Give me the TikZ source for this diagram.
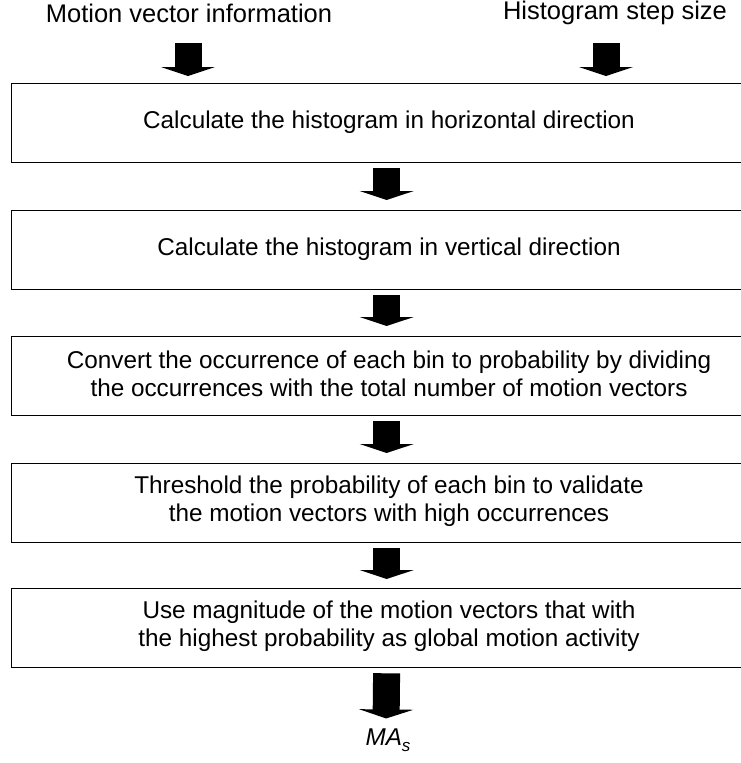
\documentclass[tikz,border=0pt]{standalone}
\usepackage{fontspec}
\setmainfont{Liberation Sans}
\usetikzlibrary{arrows.meta}
\tikzset{
  stepbox/.style={draw, line width=1.3pt, minimum width=754pt, minimum height=79pt, anchor=north west, inner sep=0pt},
  steptext/.style={align=center, font=\fontsize{24.3}{28}\selectfont, inner sep=0pt},
  intext/.style={align=center, font=\fontsize{25.5}{28}\selectfont, inner sep=0pt},
  blockarrow/.style={line width=27pt, -{Triangle[width=54pt,length=9pt]}},
}
\begin{document}
\begin{tikzpicture}[x=1pt,y=-1pt]
\useasboundingbox (0,0) rectangle (741,763);
\clip (0,0) rectangle (741,763);
\node[stepbox] (b1) at (11,83) {};
\node[stepbox] (b2) at (11,210) {};
\node[stepbox] (b3) at (11,336) {};
\node[stepbox] (b4) at (11,463) {};
\node[stepbox] (b5) at (11,588) {};
\node[steptext] (l1) at (389,122) {Calculate the histogram in horizontal direction};
\node[steptext] (l2) at (389,249) {Calculate the histogram in vertical direction};
\node[steptext] (l3) at (389,374) {Convert the occurrence of each bin to probability by dividing\\the occurrences with the total number of motion vectors};
\node[steptext] (l4) at (389,501) {Threshold the probability of each bin to validate\\ the motion vectors with high occurrences};
\node[steptext] (l5) at (389,626) {Use magnitude of the motion vectors that with\\the highest probability as global motion activity};
\node[intext] (in1) at (189,13) {Motion vector information};
\node[intext] (in2) at (615,13) {Histogram step size};
\node[steptext] (out) at (388,740) {\textit{MA}\raisebox{-0.45ex}{\fontsize{17}{17}\selectfont\textit{s}}};
\coordinate (c1) at (188,43);
\coordinate (c2) at (606,43);
\draw[blockarrow, shorten >=7pt] (c1) -- (c1 |- b1.north);
\draw[blockarrow, shorten >=7pt] (c2) -- (c2 |- b1.north);
\draw[blockarrow, shorten <=5pt, shorten >=10pt] ([xshift=-2pt]b1.south) -- ([xshift=-2pt]b2.north);
\draw[blockarrow, shorten <=5pt, shorten >=10pt] ([xshift=-2pt]b2.south) -- ([xshift=-2pt]b3.north);
\draw[blockarrow, shorten <=5pt, shorten >=10pt] ([xshift=-2pt]b3.south) -- ([xshift=-2pt]b4.north);
\draw[blockarrow, shorten <=5pt, shorten >=9pt] ([xshift=-2pt]b4.south) -- ([xshift=-2pt]b5.north);
\draw[blockarrow, shorten <=5pt, shorten >=10pt] ([xshift=-2pt]b5.south) -- ([xshift=-2pt]out.north);
\end{tikzpicture}
\end{document}
